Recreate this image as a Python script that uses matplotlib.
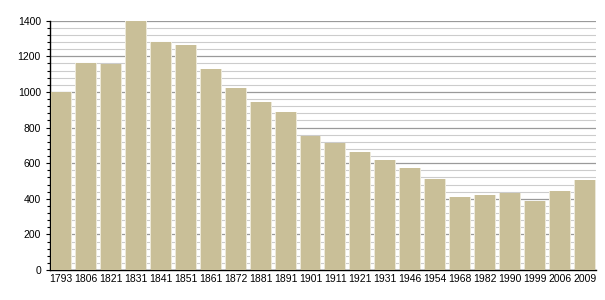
import matplotlib
matplotlib.use("Agg")
import matplotlib.pyplot as plt
import numpy as np
from matplotlib.ticker import MultipleLocator

years = ["1793", "1806", "1821", "1831", "1841", "1851", "1861", "1872", "1881",
         "1891", "1901", "1911", "1921", "1931", "1946", "1954", "1968", "1982",
         "1990", "1999", "2006", "2009"]
population = [1000, 1165, 1157, 1400, 1280, 1265, 1131, 1023, 941, 885, 752,
              713, 665, 620, 575, 513, 409, 420, 433, 388, 442, 504]

plt.rcParams['font.family'] = ['Liberation Sans', 'DejaVu Sans']

fig = plt.figure(figsize=(6.05, 3.0), dpi=100)
ax = fig.add_axes([0.0826, 0.1, 0.9024, 0.831])

x = np.arange(len(years))
# soft halo behind each bar, then the bar itself
ax.bar(x, population, width=0.88, color='#ece8d8', zorder=2, linewidth=0)
ax.bar(x, population, width=0.8, color='#c9bf98', zorder=3, linewidth=0)

ax.set_xlim(-0.45, len(years) - 0.55)
ax.set_ylim(0, 1400)
ax.set_xticks(x)
ax.set_xticklabels(years)
ax.yaxis.set_major_locator(MultipleLocator(200))
ax.yaxis.set_minor_locator(MultipleLocator(40))

ax.grid(axis='y', which='major', color='#9a9a9a', linewidth=0.9, zorder=0)
ax.grid(axis='y', which='minor', color='#cccccc', linewidth=0.8, zorder=0)
ax.set_axisbelow(True)

for s in ['top', 'right']:
    ax.spines[s].set_visible(False)
ax.spines['left'].set_linewidth(1.0)
ax.spines['bottom'].set_linewidth(1.0)

ax.tick_params(axis='x', length=0, pad=3, labelsize=7.5)
ax.tick_params(axis='y', which='major', length=3, width=0.8, labelsize=7.5)
ax.tick_params(axis='y', which='minor', length=2, width=0.8)

fig.savefig("out.png", dpi=100)
